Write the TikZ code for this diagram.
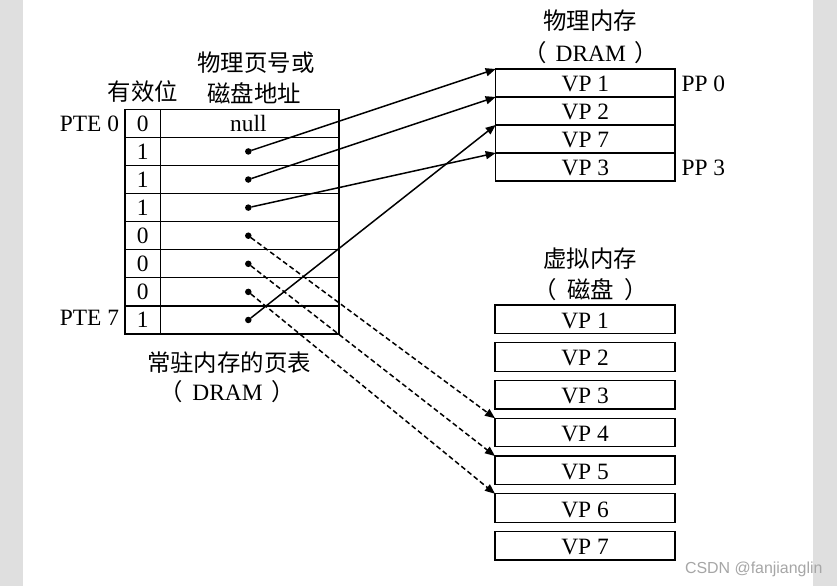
\documentclass[tikz,border=0pt]{standalone}
\usepackage{fontspec}
\setmainfont{Liberation Serif}
\newfontfamily\cjk{Noto Sans CJK SC}
\newfontfamily\wmfont{Liberation Sans}
\usetikzlibrary{arrows.meta}
\begin{document}
\begin{tikzpicture}[x=1bp,y=-1bp,
  every node/.style={font=\fontsize{23.5}{27}\selectfont, inner sep=0pt, outer sep=0pt},
  cell/.style={draw, line width=1.2bp, minimum height=28.09bp, text height=16bp, text depth=0pt},
  vcell/.style={cell, minimum width=35.7bp},
  acell/.style={cell, minimum width=178.3bp},
  pmcell/.style={draw, line width=1.2bp, minimum width=179.3bp, minimum height=28bp, text height=18bp, text depth=0pt},
  dkcell/.style={draw, line width=1.2bp, minimum width=180bp, minimum height=28.5bp, text height=18bp, text depth=0pt},
  dot/.style={circle, fill=black, minimum size=6.5bp},
  cjklab/.style={font=\cjk\fontsize{23.5}{27}\selectfont},
  arr/.style={line width=1.5bp, -{Triangle[length=10bp,width=8bp]}},
  darr/.style={arr, dash pattern=on 5bp off 3bp},
]
\useasboundingbox (0,0) rectangle (837,586);
\fill[white] (0,0) rectangle (837,586);
\fill[gray!25] (0,0) rectangle (23,586);
\fill[gray!25] (813,0) rectangle (837,586);

% page table
\foreach \i/\b in {0/0,1/1,2/1,3/1,4/0,5/0,6/0,7/1}{
  \node[vcell] (v\i) at (142.85,{123.35+28.09*\i}) {\b};
  \node[acell] (a\i) at (249.85,{123.35+28.09*\i}) {};
}
\node[text height=16bp, text depth=0pt] (nul) at (248.3,123.35) {null};
\foreach \i in {1,...,7}{
  \node[dot] (d\i) at (248.3,{123.35+28.09*\i}) {};
}
\node[anchor=base east] (pte0) at (119,131.7) {PTE 0};
\node[anchor=base east] (pte7) at (119,325) {PTE 7};
\node[cjklab] (hdr1) at (143,91.7) {有效位};
\node[cjklab] (hdr2) at (256,63) {物理页号或};
\node[cjklab] (hdr3) at (254,93) {磁盘地址};
\node[cjklab] (ptlab) at (229,363) {常驻内存的页表};
\node[anchor=base] (ptlab2) at (227.5,400) {{\cjk （}\hspace{9bp}DRAM\hspace{9bp}{\cjk ）}};

% physical memory
\foreach \i/\t in {1/VP 1,2/VP 2,3/VP 7,4/VP 3}{
  \node[pmcell] (pm\i) at (585.35,{55+28*\i}) {\t};
}
\node[cjklab] (pmlab) at (590,20.5) {物理内存};
\node[anchor=base] (pmlab2) at (590.8,61.7) {{\cjk （}\hspace{9bp}DRAM\hspace{9bp}{\cjk ）}};
\node[anchor=base west] (pp0) at (681.5,92) {PP 0};
\node[anchor=base west] (pp3) at (681.5,176) {PP 3};

% disk
\foreach \i in {1,...,7}{
  \node[dkcell] (vp\i) at (585,{319.2+37.77*(\i-1)}) {VP \i};
}
\node[cjklab] (dklab) at (590,258.3) {虚拟内存};
\node[cjklab] (dklab2) at (590.8,290) {（\hspace{10bp}磁盘\hspace{10bp}）};

% arrows
\draw[arr] (d1) -- (pm1.north west);
\draw[arr] (d2) -- (pm2.north west);
\draw[arr] (d3) -- (pm4.north west);
\draw[arr] (d7) -- (pm3.north west);
\draw[darr] (d4) -- (vp4.north west);
\draw[darr] (d5) -- (vp5.north west);
\draw[darr] (d6) -- (vp6.north west);

% watermark
\node[anchor=base west, font=\wmfont\fontsize{16}{18}\selectfont, text=gray!70] (wm) at (685,573) {CSDN @fanjianglin};
\end{tikzpicture}
\end{document}
